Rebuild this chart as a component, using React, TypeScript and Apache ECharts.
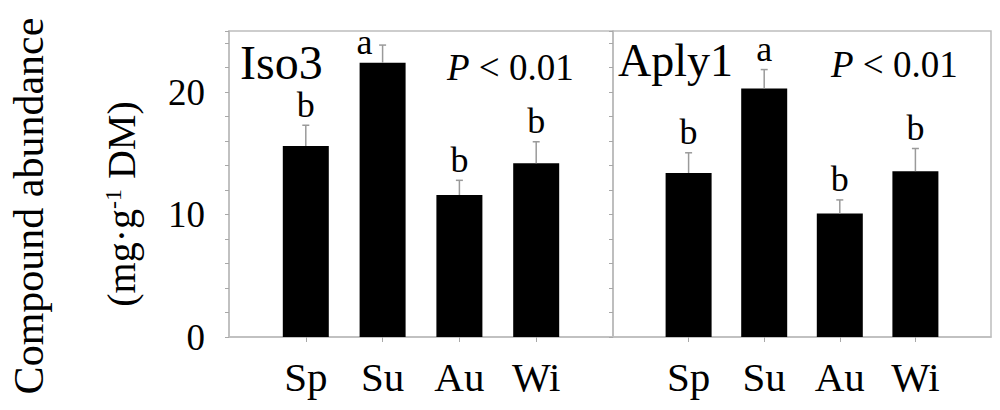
import React, { useEffect, useRef } from "react";
import * as echarts from "echarts";

const seasons = ["Sp", "Su", "Au", "Wi"];
const panelNames = ["Iso3", "Aply1"];
const iso3Means = [15.6, 22.4, 11.6, 14.2];
const iso3Errors = [1.7, 1.45, 1.2, 1.75];
const iso3Letters = ["b", "a", "b", "b"];
const aply1Means = [13.4, 20.3, 10.1, 13.55];
const aply1Errors = [1.65, 1.55, 1.1, 1.85];
const aply1Letters = ["b", "a", "b", "b"];
const pValueText = "P < 0.01";
const yTickLabels = [0, 10, 20];
const yTitleLine1 = "Compound abundance";
const yTitleUnit = ["(mg·g", "-1", " DM)"];

const FAMILY = "'Liberation Serif', 'Times New Roman', serif";
const font = (size: number, style = "normal") => `${style} normal ${size}px ${FAMILY}`;
const AXIS_GRAY = "#bdbdbd";
const TICK_GRAY = "#a8a8a8";

const panels = [
  { name: panelNames[0], means: iso3Means, errors: iso3Errors, letters: iso3Letters },
  { name: panelNames[1], means: aply1Means, errors: aply1Errors, letters: aply1Letters },
];

function buildOption() {
  const grids = [
    { left: 229, top: 31, width: 384, height: 306 },
    { left: 613, top: 31, width: 378, height: 306 },
  ].map((g) => ({
    ...g,
    show: true,
    borderColor: AXIS_GRAY,
    borderWidth: 1.5,
    backgroundColor: "transparent",
  }));

  const categories = ["", ...seasons, ""];

  const xAxes = panels.map((_, i) => ({
    type: "category",
    gridIndex: i,
    data: categories,
    boundaryGap: false,
    axisLine: { show: true, lineStyle: { color: AXIS_GRAY, width: 1.5 } },
    axisTick: {
      show: true,
      length: 5,
      interval: (idx: number) => idx > 0 && idx < categories.length - 1,
      lineStyle: { color: TICK_GRAY, width: 1 },
    },
    axisLabel: {
      interval: 0,
      fontSize: 41,
      fontFamily: FAMILY,
      color: "#000",
      margin: 19,
    },
    splitLine: { show: false },
  }));

  const yAxes = panels.map((_, i) => ({
    type: "value",
    gridIndex: i,
    min: 0,
    max: 25,
    interval: 2,
    axisLine: { show: true, lineStyle: { color: AXIS_GRAY, width: 1.5 } },
    axisTick: { show: true, length: 4, lineStyle: { color: TICK_GRAY, width: 1 } },
    axisLabel: {
      show: i === 0,
      fontSize: 37,
      fontFamily: FAMILY,
      color: "#000",
      margin: 24,
      formatter: (v: number) => (yTickLabels.includes(v) ? String(v) : ""),
    },
    splitLine: { show: false },
  }));

  const series: any[] = [];
  panels.forEach((p, i) => {
    series.push({
      type: "bar",
      xAxisIndex: i,
      yAxisIndex: i,
      data: ["-", ...p.means, "-"],
      barWidth: 46,
      itemStyle: { color: "#000" },
      z: 2,
    });
    series.push({
      type: "custom",
      xAxisIndex: i,
      yAxisIndex: i,
      z: 5,
      data: p.means.map((m, k) => [k + 1, m, p.errors[k]]),
      renderItem: (params: any, api: any) => {
        const x = api.value(0);
        const m = api.value(1);
        const e = api.value(2);
        const top = api.coord([x, m]);
        const hi = api.coord([x, m + e]);
        const cs = params.coordSys;
        let baseline = hi[1] - 8;
        let lx = hi[0];
        if (baseline < cs.y + 25) {
          baseline = cs.y + 24;
          lx -= 18;
        }
        return {
          type: "group",
          children: [
            {
              type: "line",
              shape: { x1: hi[0], y1: top[1], x2: hi[0], y2: hi[1] },
              style: { stroke: "#9a9a9a", lineWidth: 1.5 },
            },
            {
              type: "line",
              shape: { x1: hi[0] - 3.5, y1: hi[1], x2: hi[0] + 3.5, y2: hi[1] },
              style: { stroke: "#9a9a9a", lineWidth: 1.5 },
            },
            {
              type: "text",
              style: {
                text: p.letters[params.dataIndex],
                x: lx,
                y: baseline - 12.6,
                align: "center",
                verticalAlign: "middle",
                font: font(36),
                fill: "#000",
              },
            },
          ],
        };
      },
    });
  });

  const pRich = `{i|${pValueText.slice(0, 1)}}{n|${pValueText.slice(1)}}`;
  const pRichStyles = {
    i: { font: font(37, "italic"), fontSize: 37, fontFamily: FAMILY, fontStyle: "italic", fill: "#000" },
    n: { font: font(37), fontSize: 37, fontFamily: FAMILY, fill: "#000" },
  };

  const graphic: any[] = [
    {
      type: "text",
      x: 240,
      y: 62,
      style: { text: panels[0].name, font: font(48), fill: "#000", align: "left", verticalAlign: "middle" },
    },
    {
      type: "text",
      x: 618,
      y: 60,
      style: { text: panels[1].name, font: font(46), fill: "#000", align: "left", verticalAlign: "middle" },
    },
    {
      type: "text",
      x: 447,
      y: 67,
      style: { text: pRich, font: font(37), align: "left", verticalAlign: "middle", rich: pRichStyles },
    },
    {
      type: "text",
      x: 831,
      y: 64,
      style: { text: pRich, font: font(37), align: "left", verticalAlign: "middle", rich: pRichStyles },
    },
    {
      type: "text",
      x: 29,
      y: 206,
      rotation: Math.PI / 2,
      style: { text: yTitleLine1, font: font(42), fill: "#000", align: "center", verticalAlign: "middle" },
    },
    {
      type: "text",
      x: 121,
      y: 204,
      rotation: Math.PI / 2,
      style: {
        text: `{m|${yTitleUnit[0]}}{s|${yTitleUnit[1]}}{m|${yTitleUnit[2]}}`,
        font: font(40),
        align: "center",
        verticalAlign: "middle",
        rich: {
          m: { font: font(40), fontSize: 40, fontFamily: FAMILY, fill: "#000" },
          s: { font: font(24), fontSize: 24, fontFamily: FAMILY, fill: "#000", verticalAlign: "top" },
        },
      },
    },
  ];

  return {
    animation: false,
    backgroundColor: "#fff",
    grid: grids,
    xAxis: xAxes,
    yAxis: yAxes,
    series,
    graphic,
  };
}

export default function App() {
  const ref = useRef<HTMLDivElement>(null);
  useEffect(() => {
    if (!ref.current) return;
    const chart = echarts.init(ref.current, undefined, { renderer: "svg" });
    chart.setOption(buildOption() as any);
    return () => chart.dispose();
  }, []);
  return (
    <div
      ref={ref}
      style={{ position: "absolute", left: 0, top: 0, width: 1000, height: 410 }}
    />
  );
}
